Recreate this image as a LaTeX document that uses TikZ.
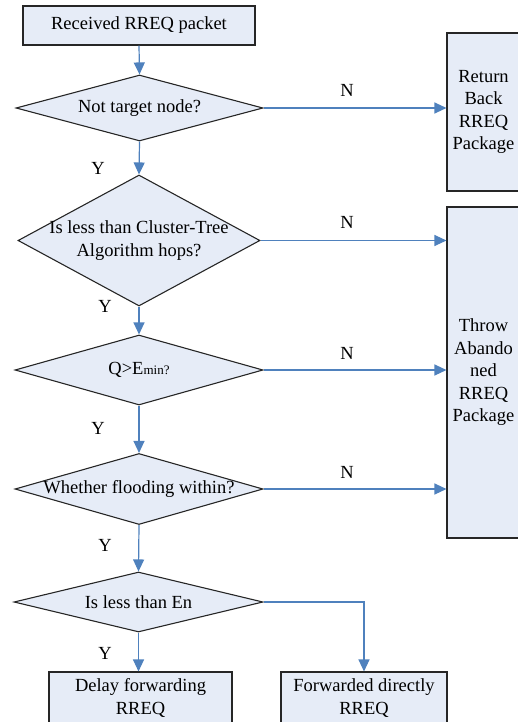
\documentclass[tikz,border=0pt]{standalone}
\usepackage{fontspec}
\setmainfont{Liberation Serif}
\usetikzlibrary{shapes.geometric,arrows.meta}
\definecolor{boxfill}{RGB}{230,236,247}
\definecolor{arrblue}{RGB}{79,129,189}
\begin{document}
\begin{tikzpicture}[x=1pt,y=-1pt,
  every node/.style={font=\fontsize{18.5}{22.5}\selectfont, inner sep=0pt},
  procbox/.style={draw=black!85, line width=1.1pt, fill=boxfill, rectangle, align=center},
  decbox/.style={draw=black!85, line width=1.1pt, fill=boxfill, diamond},
  flow/.style={draw=arrblue, line width=1.2pt, -{Triangle[length=12pt,width=11pt]}},
  lbl/.style={font=\fontsize{18.5}{22.5}\selectfont}
]
\useasboundingbox (0,0) rectangle (518,722);

% process boxes
\node[procbox, minimum width=232pt, minimum height=39pt] (start) at (139,25.5) {Received RREQ packet};
\node[procbox, minimum width=73pt, minimum height=158pt] (ret) at (483.5,112) {Return\\Back\\RREQ\\Package};
\node[procbox, minimum width=73pt, minimum height=331pt] (throw) at (483.5,372.5) {Throw\\Abando\\ned\\RREQ\\Package};
\node[procbox, minimum width=183pt, minimum height=52pt] (delay) at (140.5,698) {Delay forwarding\\RREQ};
\node[procbox, minimum width=166pt, minimum height=52pt] (fwd) at (364,698) {Forwarded directly\\RREQ};

% decisions
\node[decbox, minimum width=247pt, minimum height=66pt] (d1) at (139.5,108) {};
\node[align=center] (t1) at (d1) {Not target node?};
\node[decbox, minimum width=242pt, minimum height=131pt] (d2) at (139,240.5) {};
\node[align=center] (t2) at (d2) {Is less than Cluster-Tree\\Algorithm hops?};
\node[decbox, minimum width=248pt, minimum height=70pt] (d3) at (139,370) {};
\node (t3) at (d3) {Q>E{\fontsize{13}{15}\selectfont min?}};
\node[decbox, minimum width=248pt, minimum height=71pt] (d4) at (139,489) {};
\node (t4) at (d4) {Whether flooding within?};
\node[decbox, minimum width=249pt, minimum height=60pt] (d5) at (138.5,602) {};
\node (t5) at (d5) {Is less than En};

% connectors
\draw[flow] (start.south) -- (d1.north);
\draw[flow] (d1.south) -- (d2.north);
\draw[flow] (d2.south) -- (d3.north);
\draw[flow] (d3.south) -- (d4.north);
\draw[flow] (d4.south) -- (d5.north);
\draw[flow] (d5.south) -- (d5.south |- delay.north);
\draw[flow] (d5.east) -| (fwd.north);
\draw[flow] (d1.east) -- (d1.east -| ret.west);
\draw[flow] (d2.east) -- (d2.east -| throw.west);
\draw[flow] (d3.east) -- (d3.east -| throw.west);
\draw[flow] (d4.east) -- (d4.east -| throw.west);

% labels
\node[lbl] (n1) at (347,90) {N};
\node[lbl] (n2) at (347,222) {N};
\node[lbl] (n3) at (347,353) {N};
\node[lbl] (n4) at (347,472) {N};
\node[lbl] (y1) at (98,168) {Y};
\node[lbl] (y2) at (105,306) {Y};
\node[lbl] (y3) at (98,428) {Y};
\node[lbl] (y4) at (105,545) {Y};
\node[lbl] (y5) at (105,653) {Y};
\end{tikzpicture}
\end{document}
